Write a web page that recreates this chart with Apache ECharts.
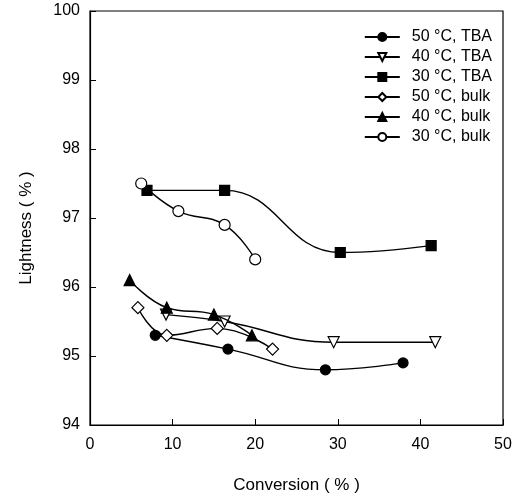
<!DOCTYPE html>
<html><head><meta charset="utf-8">
<script src="https://cdn.jsdelivr.net/npm/echarts@6/dist/echarts.min.js"></script>
<style>html,body{margin:0;padding:0;background:#fff}#c{width:513px;height:497px}</style>
</head><body><div id="c"></div>
<script>
var seriesNames = ['50 °C, TBA','40 °C, TBA','30 °C, TBA','50 °C, bulk','40 °C, bulk','30 °C, bulk'];
var tba50 = [[7.9,95.3],[16.7,95.1],[28.5,94.8],[37.9,94.9]];
var tba40 = [[9.2,95.6],[16.3,95.5],[29.5,95.2],[41.8,95.2]];
var tba30 = [[6.9,97.4],[16.3,97.4],[30.3,96.5],[41.3,96.6]];
var bulk50 = [[5.8,95.7],[9.3,95.3],[15.4,95.4],[22.1,95.1]];
var bulk40 = [[4.8,96.1],[9.3,95.7],[15.0,95.6],[19.6,95.3]];
var bulk30 = [[6.2,97.5],[10.7,97.1],[16.3,96.9],[20.0,96.4]];
var xTicks = [0,10,20,30,40,50];
var yTicks = [94,95,96,97,98,99,100];

var FONT = 'Liberation Sans, Arial, sans-serif';
var styles = [
  {symbol:'circle', size:10, fill:'#000', rot:0},
  {symbol:'triangle', size:11, fill:'#fff', rot:180},
  {symbol:'rect', size:10, fill:'#000', rot:0},
  {symbol:'diamond', size:12, fill:'#fff', rot:0},
  {symbol:'triangle', size:11, fill:'#000', rot:0},
  {symbol:'circle', size:11, fill:'#fff', rot:0}
];
var datasets = [tba50, tba40, tba30, bulk50, bulk40, bulk30];
var series = datasets.map(function(d,i){
  var s = styles[i];
  return {
    name: seriesNames[i], type:'line', data:d, smooth:0.45,
    symbol:s.symbol, symbolSize:s.size, symbolRotate:s.rot,
    lineStyle:{color:'#000', width:1.4},
    itemStyle:{color:s.fill, borderColor:'#000', borderWidth:1.2},
    z: 2 + i
  };
});
var chart = echarts.init(document.getElementById('c'), null, {renderer:'canvas'});
chart.setOption({
  animation:false,
  backgroundColor:'#fff',
  grid:{left:90, right:10, top:11, bottom:72, show:true, borderColor:'#000', borderWidth:1.2,
        containLabel:false, outerBoundsMode:'none'},
  legend:{
    data: seriesNames, orient:'vertical', right:16, top:24,
    itemWidth:35, itemHeight:10, itemGap:4,
    textStyle:{fontFamily:FONT, fontSize:16, color:'#000', padding:[0,0,0,7]}
  },
  xAxis:{
    type:'value', min:xTicks[0], max:xTicks[xTicks.length-1], interval:10,
    name:'Conversion ( % )', nameLocation:'middle', nameGap:52,
    nameTextStyle:{fontFamily:FONT, fontSize:17, color:'#000'},
    axisLine:{show:true, lineStyle:{color:'#000', width:1.2}},
    axisTick:{show:true, inside:true, length:6, lineStyle:{color:'#000'}},
    axisLabel:{fontFamily:FONT, fontSize:16, color:'#000', margin:12},
    splitLine:{show:false}
  },
  yAxis:{
    type:'value', min:yTicks[0], max:yTicks[yTicks.length-1], interval:1,
    name:'Lightness ( % )', nameLocation:'middle', nameGap:55,
    nameTextStyle:{fontFamily:FONT, fontSize:17, color:'#000', padding:[0,20,0,0]},
    axisLine:{show:true, lineStyle:{color:'#000', width:1.2}},
    axisTick:{show:true, inside:true, length:6, lineStyle:{color:'#000'}},
    axisLabel:{fontFamily:FONT, fontSize:16, color:'#000', margin:10},
    splitLine:{show:false}
  },
  series: series
});
</script></body></html>
